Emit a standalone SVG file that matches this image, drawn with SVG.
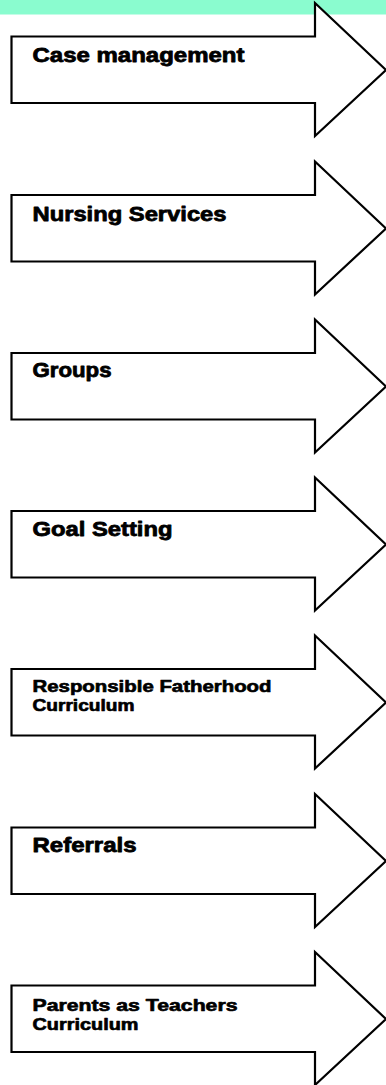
<svg xmlns="http://www.w3.org/2000/svg" width="386" height="1085" viewBox="0 0 386 1085">
<style>
.arrow{fill:#fff;stroke:#000;stroke-width:2.2;stroke-linejoin:miter}
.lbl{font-family:"Liberation Sans",Arial,sans-serif;font-weight:bold;fill:#000;stroke:#000;stroke-width:0.8;stroke-linejoin:round}
.big{font-size:20.5px}
.small{font-size:16.5px;stroke-width:0.65}
</style>
<defs>
<path id="arr" d="M11.5,33.5 H315 V0 L386,67 L315,133 V100 H11.5 Z"/>
</defs>
<rect id="band" x="0" y="0" width="386" height="14.5" fill="#8AFCCF"/>
<g id="connectors"></g>
<g id="n1"><use href="#arr" class="arrow" transform="translate(0,3)"/><text class="lbl big" x="32.5" y="61.5" textLength="212" lengthAdjust="spacingAndGlyphs">Case management</text></g>
<g id="n2"><use href="#arr" class="arrow" transform="translate(0,161.5)"/><text class="lbl big" x="32.5" y="220.5" textLength="194" lengthAdjust="spacingAndGlyphs">Nursing Services</text></g>
<g id="n3"><use href="#arr" class="arrow" transform="translate(0,319.5)"/><text class="lbl big" x="32.5" y="377" textLength="79" lengthAdjust="spacingAndGlyphs">Groups</text></g>
<g id="n4"><use href="#arr" class="arrow" transform="translate(0,477.5)"/><text class="lbl big" x="32.5" y="536" textLength="140" lengthAdjust="spacingAndGlyphs">Goal Setting</text></g>
<g id="n5"><use href="#arr" class="arrow" transform="translate(0,635.5)"/><text class="lbl small" x="32.5" y="691.5" textLength="239" lengthAdjust="spacingAndGlyphs">Responsible Fatherhood</text><text class="lbl small" x="32.5" y="710.5" textLength="102" lengthAdjust="spacingAndGlyphs">Curriculum</text></g>
<g id="n6"><use href="#arr" class="arrow" transform="translate(0,794)"/><text class="lbl big" x="32.5" y="851.5" textLength="104" lengthAdjust="spacingAndGlyphs">Referrals</text></g>
<g id="n7"><use href="#arr" class="arrow" transform="translate(0,952)"/><text class="lbl small" x="32.5" y="1010.5" textLength="205" lengthAdjust="spacingAndGlyphs">Parents as Teachers</text><text class="lbl small" x="32.5" y="1029.5" textLength="106" lengthAdjust="spacingAndGlyphs">Curriculum</text></g>
</svg>
